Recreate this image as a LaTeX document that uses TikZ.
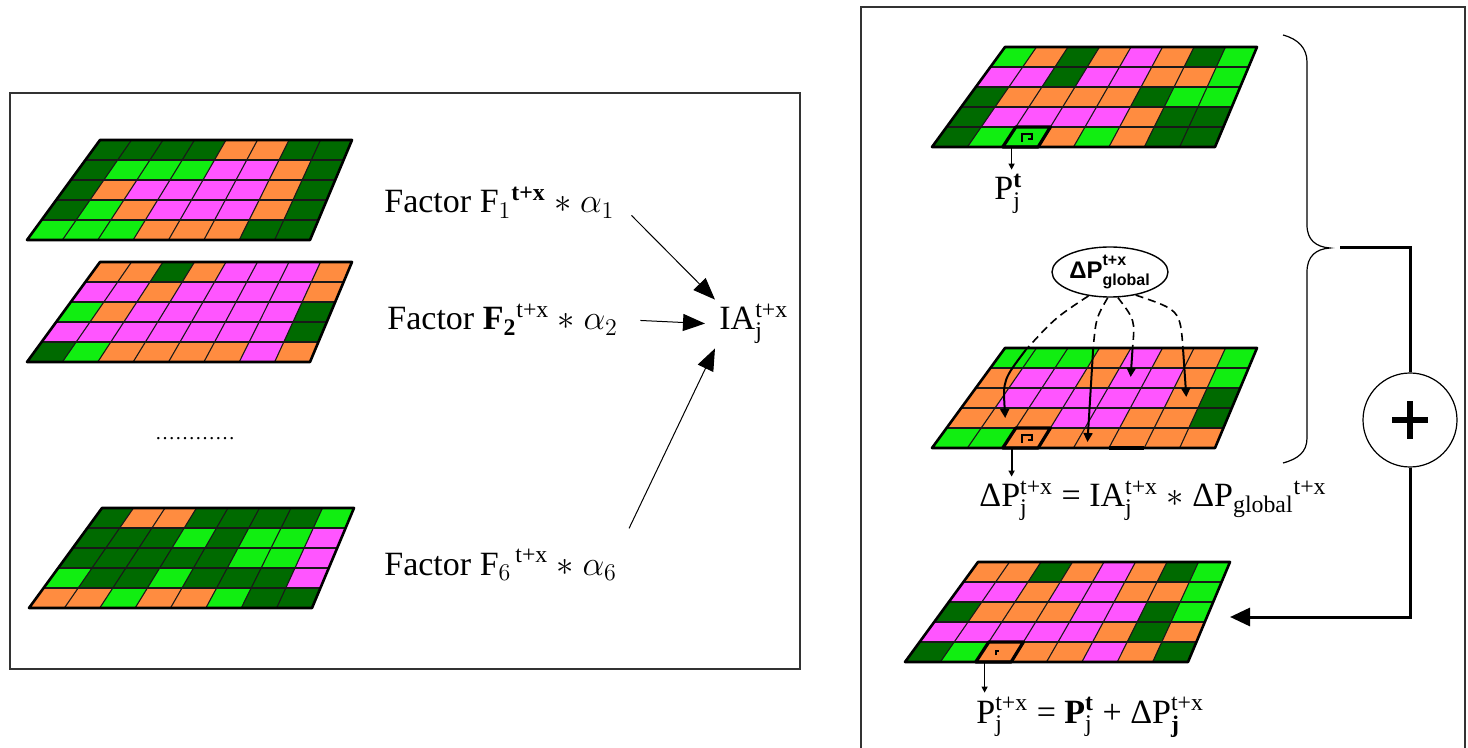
\documentclass[tikz,border=0pt]{standalone}
\usepackage{amsmath}
\usepackage{fontspec}
\setmainfont{Liberation Serif}
\setsansfont{Liberation Sans}
\usepackage{tikz}
\usetikzlibrary{arrows.meta,shapes.geometric}

\definecolor{cD}{HTML}{006A00}
\definecolor{cL}{HTML}{11EE11}
\definecolor{cO}{HTML}{FF8C40}
\definecolor{cP}{HTML}{FF55FF}

% point (column, row) of the current cell grid
\newcommand{\gpt}[2]{({\gridx+(#1)*31.5+(#2)*(-14.6+(#1)*0.775)},{\gridy+(#2)*20})}
\newcommand{\cellgrid}[3]{%
  \def\gridx{#1}\def\gridy{#2}%
  \foreach \row [count=\ri from 0] in {#3} {
    \foreach \col [count=\ci from 0] in \row {
      \fill[\col] \gpt{\ci}{\ri} -- \gpt{\ci+1}{\ri} -- \gpt{\ci+1}{\ri+1} -- \gpt{\ci}{\ri+1} -- cycle;
    }
  }
  \foreach \ci in {1,...,7} \draw[cellline] \gpt{\ci}{0} -- \gpt{\ci}{5};
  \foreach \ri in {1,...,4} \draw[cellline] \gpt{0}{\ri} -- \gpt{8}{\ri};
  \draw[gridframe] \gpt{0}{0} -- \gpt{8}{0} -- \gpt{8}{5} -- \gpt{0}{5} -- cycle;
}

\begin{document}
\begin{tikzpicture}[
    x=0.5pt, y=-0.5pt,
    lbl/.style={font=\fontsize{17}{20}\selectfont, inner sep=2pt},
    boxframe/.style={draw=black!80, line width=0.8pt},
    cellline/.style={draw=black!90, line width=0.55pt},
    gridframe/.style={draw=black, line width=1.3pt, line join=round},
    markframe/.style={draw=black, line width=1.6pt, line join=round},
    bigarrow/.style={-{Triangle[length=11pt,width=8.5pt]}, line width=0.5pt},
    gpdash/.style={dash pattern=on 4pt off 2.5pt, line width=0.8pt},
    gparrow/.style={-{Triangle[length=4.5pt,width=4.5pt]}, line width=1pt},
    cellarrow/.style={-{Triangle[length=3pt,width=3pt]}, line width=0.6pt},
    bracket/.style={line width=0.6pt},
    link/.style={line width=1.5pt},
    sumnode/.style={circle, draw, line width=0.6pt, minimum size=47pt, inner sep=0pt},
    gellipse/.style={ellipse, draw, line width=0.7pt, minimum width=58pt,
        minimum height=25pt, inner sep=0pt,
        font={\sffamily\bfseries\fontsize{12}{13}\selectfont}}
]
\useasboundingbox (0,0) rectangle (1468,748);

\draw[boxframe] (10,93) rectangle (800,669);
\draw[boxframe] (861,7) rectangle (1465,760);

% left box: factor layers
\cellgrid{100}{140}{{cD,cD,cD,cD,cO,cO,cD,cD},{cD,cL,cL,cL,cP,cP,cO,cD},{cD,cO,cP,cP,cP,cP,cO,cD},{cD,cL,cO,cP,cP,cP,cO,cD},{cL,cL,cL,cO,cO,cO,cD,cD}}
\cellgrid{100}{262}{{cO,cO,cD,cO,cP,cP,cP,cO},{cP,cP,cO,cP,cP,cP,cP,cO},{cL,cO,cP,cP,cP,cP,cP,cD},{cP,cP,cP,cP,cP,cP,cP,cD},{cD,cL,cO,cO,cO,cO,cP,cO}}
\cellgrid{102}{508}{{cD,cO,cO,cD,cD,cD,cD,cL},{cD,cD,cD,cL,cD,cL,cL,cP},{cD,cD,cD,cD,cD,cL,cL,cP},{cL,cD,cD,cL,cD,cD,cD,cP},{cO,cO,cL,cO,cO,cL,cD,cD}}

\node[lbl, anchor=base west] (f1) at (380,213) {Factor F$_{1}{}^{\textbf{t+x}}$ $*$ $\alpha_1$};
\node[lbl, anchor=base west] (f2) at (383,330) {Factor \textbf{F}$_{\textbf{2}}{}^{\text{t+x}}$ $*$ $\alpha_2$};
\node[anchor=base west, font=\fontsize{10}{12}\selectfont] (dots) at (148,440) {\ldots\ldots\ldots\ldots};
\node[lbl, anchor=base west] (f6) at (380,575) {Factor F$_{6}{}^{\,\text{t+x}}$ $*$ $\alpha_6$};
\node[lbl, anchor=base west] (ia) at (715,330) {IA$_{\text{j}}^{\text{t+x}}$};

\draw[bigarrow, shorten <=9pt] (f1.east) -- (ia.north west);
\draw[bigarrow, shorten <=9pt, shorten >=5pt] (f2.east) -- (ia.west);
\draw[bigarrow, shorten <=9pt] (f6.north east) -- (ia.south west);

% right box: current, change and next layer
\cellgrid{1005}{47}{{cL,cO,cD,cO,cP,cO,cD,cL},{cP,cP,cD,cP,cP,cO,cO,cL},{cD,cO,cO,cO,cO,cD,cL,cL},{cD,cP,cP,cP,cP,cO,cD,cD},{cD,cL,cL,cO,cL,cO,cD,cD}}
\draw[markframe] \gpt{2}{4} -- \gpt{3}{4} -- \gpt{3}{5} -- \gpt{2}{5} -- cycle;
\path \gpt{2.5}{4.5} coordinate (c1) \gpt{2.25}{5} coordinate (pc1);
\draw[line width=0.9pt] ([shift={(-5,5)}]c1) -- ++(0,-8) -- ++(10,0) -- ++(0,5) -- ++(-4,0);
\node[lbl, anchor=base west] (pt) at (990,200) {P$_{\text{j}}^{\textbf{t}}$};
\draw[cellarrow] (pc1) -- (pc1 |- pt.north);

\cellgrid{1005}{348}{{cL,cL,cL,cO,cP,cO,cO,cL},{cO,cP,cP,cO,cP,cP,cO,cL},{cO,cP,cP,cP,cP,cP,cO,cD},{cO,cO,cO,cP,cP,cO,cO,cD},{cL,cL,cO,cO,cO,cO,cO,cO}}
\draw[markframe] \gpt{2}{4} -- \gpt{3}{4} -- \gpt{3}{5} -- \gpt{2}{5} -- cycle;
\draw[markframe] \gpt{5}{5} -- \gpt{6}{5};
\path \gpt{2.5}{4.5} coordinate (c2) \gpt{2.25}{5} coordinate (pc2)
      \gpt{0.7}{0.1} coordinate (m1) \gpt{1.5}{3.5} coordinate (t1)
      \gpt{2.8}{0} coordinate (m2) \gpt{4.3}{4.7} coordinate (t2)
      \gpt{4.05}{0} coordinate (m3) \gpt{4.5}{1.45} coordinate (t3)
      \gpt{5.65}{0} coordinate (m4) \gpt{6.5}{2.45} coordinate (t4);
\draw[line width=0.9pt] ([shift={(-5,5)}]c2) -- ++(0,-8) -- ++(10,0) -- ++(0,5) -- ++(-4,0);

\node[gellipse] (dpg) at (1110,272) {ΔP$^{\text{\raisebox{2pt}{t+x}}}_{\text{global}}$};
\draw[gpdash] (dpg.228) .. controls (1055,318) .. (m1);
\draw[gparrow] (m1) .. controls (1003,380) .. (t1);
\draw[gpdash] (dpg.265) .. controls (1096,318) .. (m2);
\draw[gparrow] (m2) -- (t2);
\draw[gpdash] (dpg.287) .. controls (1135,320) .. (m3);
\draw[gparrow] (m3) -- (t3);
\draw[gpdash] (dpg.318) .. controls (1180,310) .. (m4);
\draw[gparrow] (m4) -- (t4);

\node[lbl, anchor=base west] (dpj) at (975,507) {ΔP$_{\text{j}}^{\text{t+x}}$ = IA$_{\text{j}}^{\text{t+x}}$ $*$ ΔP$_{\text{global}}{}^{\text{t+x}}$};
\draw[cellarrow, line width=1pt] (pc2) -- (pc2 |- dpj.north);

\cellgrid{978}{562}{{cO,cO,cD,cO,cP,cO,cD,cL},{cP,cP,cO,cP,cP,cO,cO,cL},{cD,cO,cO,cO,cP,cP,cD,cL},{cP,cP,cP,cP,cP,cO,cD,cO},{cD,cL,cO,cO,cO,cP,cO,cD}}
\draw[markframe] \gpt{2}{4} -- \gpt{3}{4} -- \gpt{3}{5} -- \gpt{2}{5} -- cycle;
\path \gpt{2.5}{4.5} coordinate (c3) \gpt{2.25}{5} coordinate (pc3);
\draw[line width=0.9pt] ([shift={(-4,3)}]c3) -- ++(0,-4) -- ++(3,0);
\node[lbl, anchor=base west] (ptx) at (972,723) {P$_{\text{j}}^{\text{t+x}}$ = \textbf{P}$_{\text{j}}^{\textbf{t}}$ + ΔP$_{\textbf{j}}^{\text{t+x}}$};
\draw[cellarrow] (pc3) -- (pc3 |- ptx.north);

% brace and sum
\coordinate (btip) at (1330,248);
\coordinate (r3in) at (1230,617);
\draw[bracket] (1283,35) .. controls (1298,39) and (1307,48) .. (1307,62) -- (1307,225)
    .. controls (1307,240) and (1316,247) .. (btip)
    .. controls (1316,249) and (1307,256) .. (1307,272) -- (1307,438)
    .. controls (1307,452) and (1298,459) .. (1283,463);
\node[sumnode] (plus) at (1410,420) {};
\draw[line width=3pt] ([xshift=-9pt]plus.center) -- ([xshift=9pt]plus.center);
\draw[line width=3pt] ([yshift=-9.5pt]plus.center) -- ([yshift=9.5pt]plus.center);
\draw[link] ([xshift=5pt]btip) -| (plus.north);
\draw[link, -{Triangle[length=10pt,width=9pt]}] (plus.south) |- (r3in);

\end{tikzpicture}
\end{document}
